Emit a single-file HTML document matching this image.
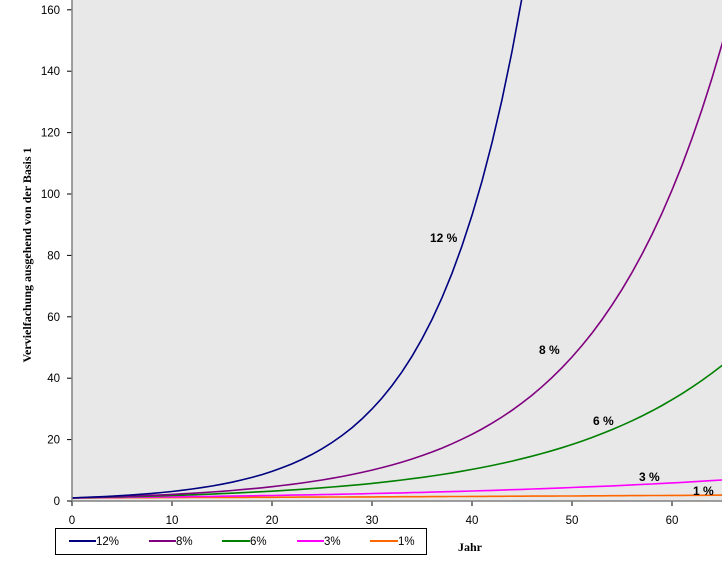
<!DOCTYPE html>
<html><head><meta charset="utf-8"><style>
body{margin:0;background:#fff;width:722px;height:566px;overflow:hidden}
svg{display:block}
</style></head><body>
<svg id="s" width="722" height="566" xmlns="http://www.w3.org/2000/svg" font-family="Liberation Sans, sans-serif">
<defs><clipPath id="c"><rect x="72" y="0" width="650" height="502"/></clipPath></defs>
<rect x="72" y="0" width="650" height="501" fill="#e8e8e8"/>
<g id="ticks"></g>
<g id="lines" clip-path="url(#c)" fill="none" stroke-width="1.6"></g>
<line x1="72" y1="0" x2="72" y2="501" stroke="#808080" stroke-width="1.5"/>
<line x1="72" y1="501" x2="722" y2="501" stroke="#808080" stroke-width="1.5"/>
<g font-size="12" font-weight="bold" fill="#000">
<text x="430" y="242">12 %</text>
<text x="539" y="354">8 %</text>
<text x="593" y="425">6 %</text>
<text x="639" y="481">3 %</text>
<text x="693" y="495">1 %</text>
</g>
<text transform="translate(31,255) rotate(-90)" text-anchor="middle" font-family="Liberation Serif, serif" font-size="12" font-weight="bold">Vervielfachung ausgehend von der Basis 1</text>
<text x="458" y="551" font-family="Liberation Serif, serif" font-size="12" font-weight="bold">Jahr</text>
<rect x="55.5" y="528.5" width="371" height="26" fill="#fff" stroke="#000"/>
<g font-size="11.5" fill="#000">
<line x1="69" y1="541" x2="96" y2="541" stroke="#000080" stroke-width="2"/><text x="96" y="545">12%</text>
<line x1="149" y1="541" x2="176" y2="541" stroke="#800080" stroke-width="2"/><text x="176" y="545">8%</text>
<line x1="222" y1="541" x2="250" y2="541" stroke="#008000" stroke-width="2"/><text x="250" y="545">6%</text>
<line x1="297" y1="541" x2="324" y2="541" stroke="#ff00ff" stroke-width="2"/><text x="324" y="545">3%</text>
<line x1="370" y1="541" x2="398" y2="541" stroke="#ff6600" stroke-width="2"/><text x="398" y="545">1%</text>
</g>
</svg>
<script>
var NS="http://www.w3.org/2000/svg",s=document.getElementById('ticks'),l=document.getElementById('lines');
function X(t){return 72+t*10}function Y(v){return 501-v*3.07}
function el(n,a,p,txt){var e=document.createElementNS(NS,n);for(var k in a)e.setAttribute(k,a[k]);if(txt!=null)e.textContent=txt;p.appendChild(e);return e}
for(var v=0;v<=160;v+=20){var y=Y(v);el('line',{x1:67,y1:y,x2:72,y2:y,stroke:'#000'},s);el('text',{x:60,y:y+4,'text-anchor':'end','font-size':11.5},s,v)}
for(var t=0;t<=60;t+=10){var x=X(t);el('line',{x1:x,y1:501,x2:x,y2:506,stroke:'#000'},s);el('text',{x:x,y:524,'text-anchor':'middle','font-size':11.5},s,t)}
[[.01,'#ff6600'],[.03,'#ff00ff'],[.06,'#008000'],[.08,'#800080'],[.12,'#000080']].forEach(function(r){
var d='';for(var t=0;t<=66;t++){var v=Math.pow(1+r[0],t);d+=(t?'L':'M')+X(t).toFixed(1)+','+Y(v).toFixed(1);if(v>170)break}
el('path',{d:d,stroke:r[1]},l)});
</script>
</body></html>
